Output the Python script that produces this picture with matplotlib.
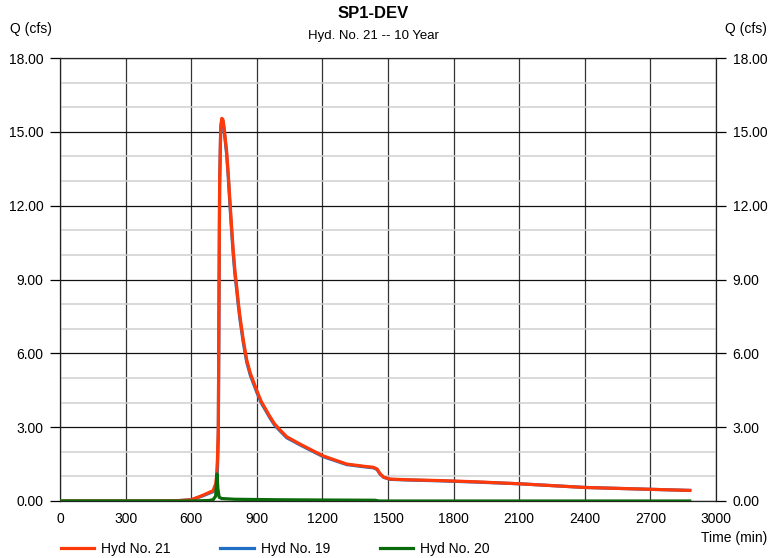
import matplotlib
matplotlib.use("Agg")
from matplotlib import pyplot as plt
from matplotlib.ticker import MultipleLocator

plt.rcParams["font.family"] = ["Liberation Sans", "DejaVu Sans"]

# Hyd No. 21 (combined outflow)
t21 = [0, 400, 500, 550, 600, 650, 700, 712, 716, 720, 724, 730, 735, 740, 745,
       750, 756, 762, 770, 777, 785, 792, 800, 808, 815, 823, 838, 854, 870,
       899, 920, 960, 980, 1006, 1037, 1100, 1204, 1311, 1400, 1433, 1450,
       1463, 1480, 1509, 1600, 1737, 1900, 2100, 2300, 2400, 2600, 2880]
q21 = [0, 0, 0.005, 0.02, 0.05, 0.22, 0.42, 0.7, 1.0, 1.7, 3.0, 13.0, 15.2,
       15.55, 15.5, 15.2, 14.7, 14.2, 13.2, 12.2, 11.1, 10.2, 9.35, 8.71, 8.1,
       7.49, 6.55, 5.73, 5.2, 4.51, 4.05, 3.43, 3.15, 2.89, 2.61, 2.3, 1.83,
       1.5, 1.4, 1.37, 1.3, 1.12, 0.97, 0.89, 0.86, 0.83, 0.78, 0.7, 0.6, 0.55,
       0.5, 0.43]

# Hyd No. 19
q19 = [0, 0, 0.005, 0.02, 0.05, 0.2, 0.38, 0.5, 0.7, 1.3, 2.6, 12.8, 15.1,
       15.5, 15.45, 15.1, 14.6, 14.1, 13.1, 12.05, 10.95, 10.05, 9.2, 8.58,
       7.98, 7.38, 6.45, 5.64, 5.12, 4.44, 3.99, 3.38, 3.1, 2.85, 2.57, 2.27,
       1.8, 1.48, 1.38, 1.35, 1.28, 1.1, 0.96, 0.88, 0.85, 0.82, 0.77, 0.7,
       0.6, 0.55, 0.5, 0.43]

# Hyd No. 20
t20 = [0, 600, 680, 700, 712, 718, 722, 728, 740, 800, 1000, 1200, 1440, 1460,
       2880]
q20 = [0, 0, 0.02, 0.05, 0.2, 1.1, 0.5, 0.15, 0.1, 0.07, 0.05, 0.04, 0.03,
       0.0, 0.0]

fig = plt.figure(figsize=(7.71, 5.58), dpi=100)
ax = fig.add_axes([60 / 771, 57 / 558, 656 / 771, 443 / 558])

ax.plot(t21, q19, color="#1f6fc5", lw=2.3, label="Hyd No. 19", zorder=3)
ax.plot(t21, q21, color="#ff3a0a", lw=2.3, label="Hyd No. 21", zorder=4)
ax.plot(t20, q20, color="#0a6b0a", lw=2.3, label="Hyd No. 20", zorder=5)

ax.set_xlim(0, 3000)
ax.set_ylim(0, 18)
ax.xaxis.set_major_locator(MultipleLocator(300))
ax.yaxis.set_major_locator(MultipleLocator(3))
ax.yaxis.set_minor_locator(MultipleLocator(1))
ax.yaxis.set_major_formatter("{x:.2f}")

ax.grid(which="major", axis="x", color="#333333", lw=0.9)
ax.grid(which="major", axis="y", color="#111111", lw=0.9)
ax.grid(which="minor", axis="y", color="#d0d0d0", lw=1.1)
ax.set_axisbelow(True)

ax.tick_params(axis="y", which="major", length=7, width=0.9, labelsize=10,
               right=True, labelright=True, pad=5)
ax.tick_params(axis="y", which="minor", length=0)
ax.tick_params(axis="x", length=0, labelsize=10, pad=8)
for s in ax.spines.values():
    s.set_color("#222222")
    s.set_linewidth(0.9)

fig.text(373 / 771, 1 - 13 / 558, "SP1-DEV", ha="center", va="center",
         fontsize=12, fontweight="bold")
fig.text(373 / 771, 1 - 36 / 558, "Hyd. No. 21 -- 10 Year", ha="center",
         va="center", fontsize=9.5)
fig.text(10 / 771, 1 - 29 / 558, "Q (cfs)", ha="left", va="center",
         fontsize=10)
fig.text(767 / 771, 1 - 29 / 558, "Q (cfs)", ha="right", va="center",
         fontsize=10)
fig.text(767 / 771, 1 - 538 / 558, "Time (min)", ha="right", va="center",
         fontsize=10)

handles, labels = ax.get_legend_handles_labels()
order = [1, 0, 2]
fig.legend([handles[i] for i in order], [labels[i] for i in order],
           loc="center left", bbox_to_anchor=(48 / 771, 1 - 549 / 558),
           ncol=3, frameon=False, fontsize=10, handlelength=2.4,
           columnspacing=3.6, handletextpad=0.5)

fig.savefig("out.png", dpi=100)
